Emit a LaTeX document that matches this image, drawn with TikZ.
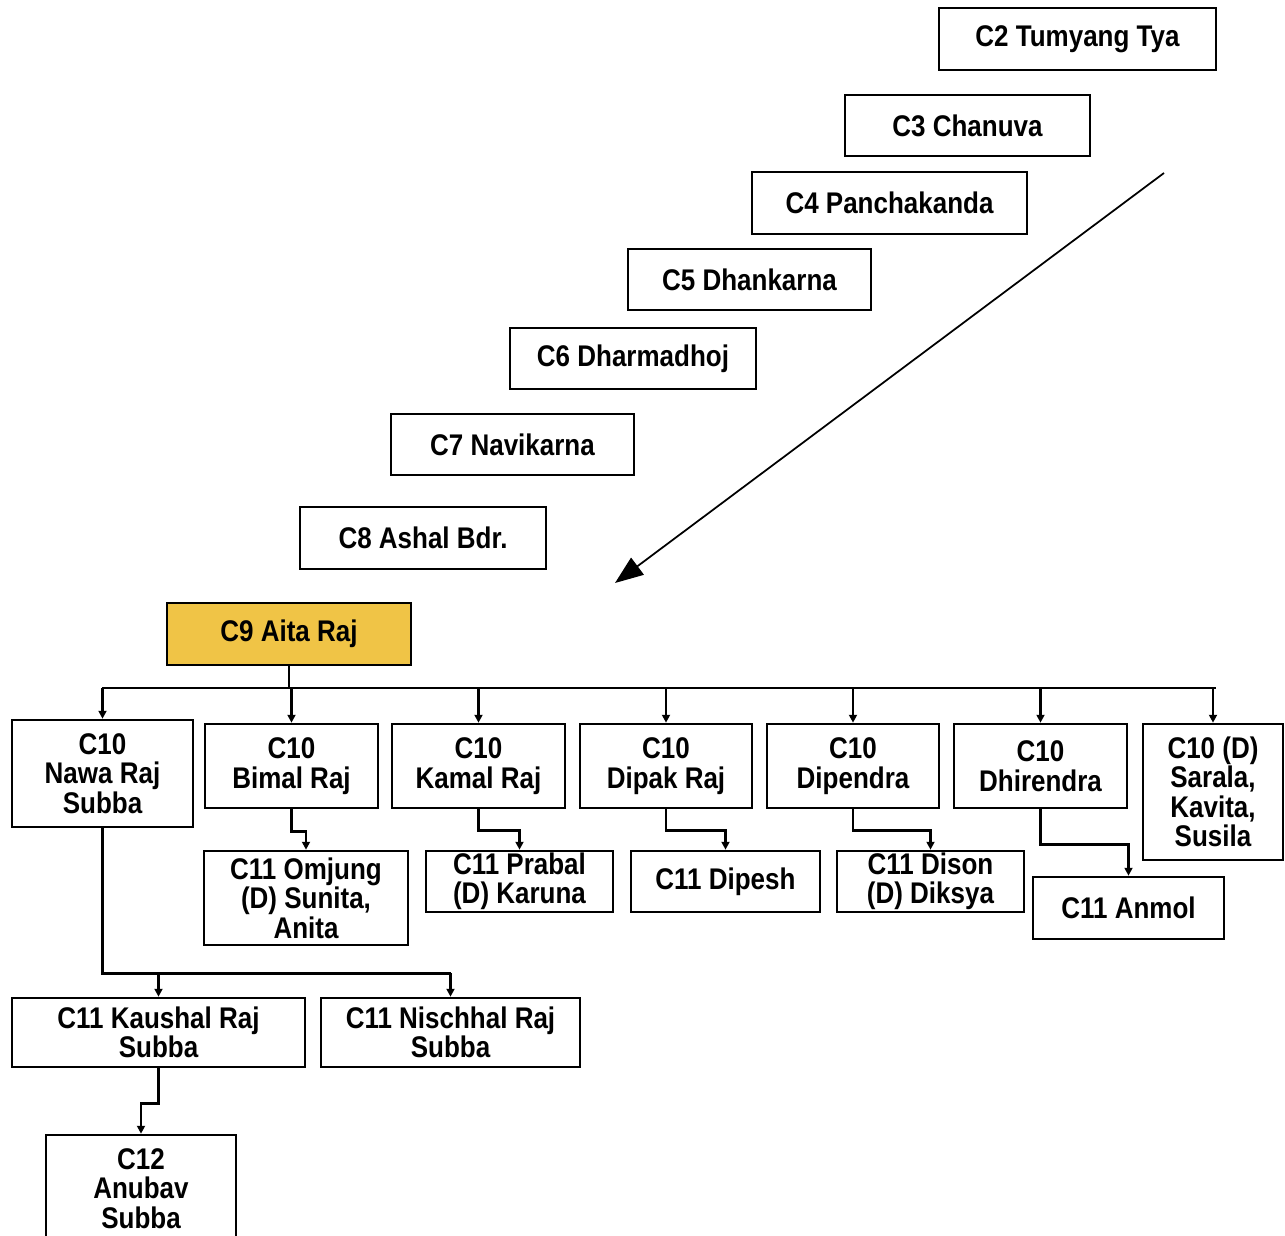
\documentclass[tikz,border=0pt]{standalone}
\usepackage{fontspec}
\setmainfont{Liberation Sans}[FakeStretch=0.87]
\usepackage{tikz}
\usetikzlibrary{arrows.meta}
\definecolor{aitagold}{RGB}{240,196,70}
\tikzset{
    kbox/.style={draw, line width=1.5pt, fill=white, align=center, inner sep=0pt,
        font=\bfseries\fontsize{17}{16.8}\selectfont},
    kline/.style={line width=1.4pt},
    karr/.style={line width=1.4pt, -{Triangle[length=4.5pt,width=4.5pt]}}
}

\begin{document}
\begin{tikzpicture}[x=0.02cm, y=-0.02cm]
        \useasboundingbox (0,0) rectangle (1285,1236);
        % ancestors
        \node[kbox, minimum width=5.54cm, minimum height=1.24cm] (c2) at (1077.5,39) {C2 Tumyang Tya};
        \node[kbox, minimum width=4.90cm, minimum height=1.22cm] (c3) at (967.5,125.5) {C3 Chanuva};
        \node[kbox, minimum width=5.50cm, minimum height=1.24cm] (c4) at (889.5,203) {C4 Panchakanda};
        \node[kbox, minimum width=4.86cm, minimum height=1.22cm] (c5) at (749.5,279.5) {C5 Dhankarna};
        \node[kbox, minimum width=4.92cm, minimum height=1.22cm] (c6) at (633,358.5) {C6 Dharmadhoj};
        \node[kbox, minimum width=4.86cm, minimum height=1.22cm] (c7) at (512.5,444.5) {C7 Navikarna};
        \node[kbox, minimum width=4.92cm, minimum height=1.24cm] (c8) at (423,538) {C8 Ashal Bdr.};
        \coordinate (dstart) at (1164,173);
        \coordinate (dend) at (615,583);
        \draw[line width=1pt, -{Triangle[length=16pt,width=12pt]}] (dstart) -- (dend);
        \node[kbox, fill=aitagold, minimum width=4.88cm, minimum height=1.24cm] (c9) at (289,634) {C9 Aita Raj};

        % C10
        \node[kbox, minimum width=3.62cm, minimum height=2.14cm] (nawa) at (102.5,773.5) {C10\\Nawa Raj\\Subba};
        \node[kbox, minimum width=3.46cm, minimum height=1.68cm] (bimal) at (291.5,766) {C10\\Bimal Raj};
        \node[kbox, minimum width=3.46cm, minimum height=1.68cm] (kamal) at (478.5,766) {C10\\Kamal Raj};
        \node[kbox, minimum width=3.44cm, minimum height=1.68cm] (dipak) at (666,766) {C10\\Dipak Raj};
        \node[kbox, minimum width=3.44cm, minimum height=1.68cm] (dipendra) at (853,766) {C10\\Dipendra};
        \node[kbox, minimum width=3.46cm, minimum height=1.68cm] (dhirendra) at (1040.5,766) {C10\\Dhirendra};
        \node[kbox, minimum width=2.80cm, minimum height=2.72cm] (sarala) at (1213,792) {C10 (D)\\Sarala,\\Kavita,\\Susila};
        \coordinate (busL) at (102,688);
        \coordinate (busR) at (1216,688);
        \draw[kline] (busL) -- (busR);
        \draw[kline] (c9.south) -- (c9.south |- busL);
        \foreach \n in {nawa,bimal,kamal,dipak,dipendra,dhirendra,sarala}
            \draw[karr] (\n.north |- busL) -- (\n.north);

        % C11
        \node[kbox, minimum width=4.08cm, minimum height=1.88cm] (omjung) at (306,898) {C11 Omjung\\(D) Sunita,\\Anita};
        \node[kbox, minimum width=3.74cm, minimum height=1.22cm] (prabal) at (519.5,881.5) {C11 Prabal\\(D) Karuna};
        \node[kbox, minimum width=3.78cm, minimum height=1.22cm] (dipesh) at (725.5,881.5) {C11 Dipesh};
        \node[kbox, minimum width=3.74cm, minimum height=1.22cm] (dison) at (930.5,881.5) {C11 Dison\\(D) Diksya};
        \node[kbox, minimum width=3.82cm, minimum height=1.24cm] (anmol) at (1128.5,908) {C11 Anmol};
        \draw[karr] (bimal.south) -- ++(0,22) -| (omjung.north);
        \draw[karr] (kamal.south) -- ++(0,21) -| (prabal.north);
        \draw[karr] (dipak.south) -- ++(0,21) -| (dipesh.north);
        \draw[karr] (dipendra.south) -- ++(0,21) -| (dison.north);
        \draw[karr] (dhirendra.south) -- ++(0,35) -| (anmol.north);

        \node[kbox, minimum width=5.86cm, minimum height=1.38cm] (kaushal) at (158.5,1032.5) {C11 Kaushal Raj\\Subba};
        \node[kbox, minimum width=5.18cm, minimum height=1.38cm] (nischhal) at (450.5,1032.5) {C11 Nischhal Raj\\Subba};
        \draw[kline] (nawa.south) -- ++(0,145) coordinate (nbus) -- (nbus -| nischhal.north);
        \draw[karr] (nbus -| kaushal.north) -- (kaushal.north);
        \draw[karr] (nbus -| nischhal.north) -- (nischhal.north);

        % C12
        \node[kbox, minimum width=3.80cm, minimum height=2.14cm] (anubav) at (141,1188.5) {C12\\Anubav\\Subba};
        \draw[karr] (kaushal.south) -- ++(0,35) -| (anubav.north);
    \end{tikzpicture}
\end{document}
